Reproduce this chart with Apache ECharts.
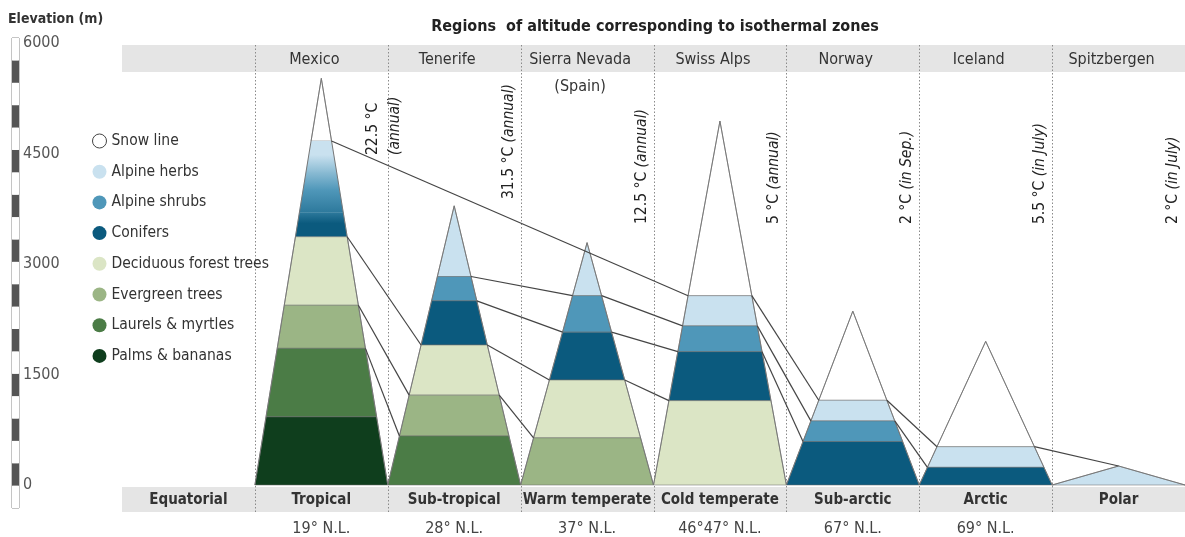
<!DOCTYPE html>
<html><head><meta charset="utf-8">
<script src="https://cdn.jsdelivr.net/npm/echarts@6/dist/echarts.min.js"></script>
<style>html,body{margin:0;padding:0;background:#fff}#c{width:1185px;height:537px}</style>
</head><body><div id="c"></div>
<script>
// ---------- data ----------
const regions = ['Mexico', 'Tenerife', 'Sierra Nevada\n(Spain)', 'Swiss Alps', 'Norway', 'Iceland', 'Spitzbergen'];
const zones = ['Equatorial', 'Tropical', 'Sub-tropical', 'Warm temperate', 'Cold temperate', 'Sub-arctic', 'Arctic', 'Polar'];
const latitudes = ['', '19° N.L.', '28° N.L.', '37° N.L.', '46°47° N.L.', '67° N.L.', '69° N.L.', ''];
const temperatures = ['22.5 °C', '31.5 °C', '12.5 °C', '5 °C', '2 °C', '5.5 °C', '2 °C'];
const temperatureNotes = ['(annual)', '(annual)', '(annual)', '(annual)', '(in Sep.)', '(in July)', '(in July)'];
const elevationTicks = [0, 1500, 3000, 4500, 6000];
const zoneNames = ['Snow line', 'Alpine herbs', 'Alpine shrubs', 'Conifers', 'Deciduous forest trees', 'Evergreen trees', 'Laurels & myrtles', 'Palms & bananas'];

// elevations (m) per mountain, in regions order
const peakElevation   = [5520, 3790, 3290, 4940, 2360, 1950, 258];
const snowLine        = [4670, null, null, 2570, 1150, 520, 258];
const alpineHerbsTop  = [4670, 3790, 3290, 2570, 1150, 520, 258];
const alpineShrubsTop = [4250, 2830, 2570, 2160, 870, null, null];
const conifersTop     = [3700, 2500, 2075, 1810, 590, 240, null];
const deciduousTop    = [3370, 1900, 1425, 1145, null, null, null];
const evergreenTop    = [2440, 1220, 640, null, null, null, null];
const laurelsTop      = [1855, 665, null, null, null, null, null];
const palmsTop        = [925, null, null, null, null, null, null];
const blendedBelt     = [true, false, false, false, false, false, false]; // herbs→conifers shown as a gradient

// ---------- styles ----------
const FONT = "'DejaVu Sans Condensed','DejaVu Sans',sans-serif";
const zoneColors = ['#ffffff', '#c9e1ef', '#4f97b9', '#0b5a7e', '#dbe5c5', '#9bb585', '#4b7c46', '#0f3e1d'];

function hex2rgb(h) { return [1, 3, 5].map(p => parseInt(h.substr(p, 2), 16)); }
function mix(a, b) { const x = hex2rgb(a), y = hex2rgb(b); return 'rgb(' + x.map((v, n) => Math.round((v + y[n]) / 2)).join(',') + ')'; }

const N = peakElevation.length;
const vegTops = [alpineHerbsTop, alpineShrubsTop, conifersTop, deciduousTop, evergreenTop, laurelsTop, palmsTop];
function edgeX(i, e, side) {
  const L = i + 1, R = i + 2, P = i + 1.5, f = e / peakElevation[i];
  return side < 0 ? L + (P - L) * f : R - (R - P) * f;
}
function bandsOf(i) {
  const out = [];
  if (snowLine[i] != null && snowLine[i] < peakElevation[i]) out.push({ k: 0, lo: snowLine[i], hi: peakElevation[i] });
  const present = vegTops.map((a, j) => ({ k: j + 1, top: a[i] })).filter(d => d.top != null);
  present.forEach((d, n) => out.push({ k: d.k, lo: n + 1 < present.length ? present[n + 1].top : 0, hi: d.top }));
  return out;
}

const zoneSeries = zoneNames.map((name, k) => {
  const data = [];
  for (let i = 0; i < N; i++) bandsOf(i).forEach(b => { if (b.k === k) data.push([i, b.lo, b.hi]); });
  return {
    type: 'custom', name, z: 2, xAxisIndex: 0, yAxisIndex: 0, data,
    encode: { x: 0, y: [1, 2] },
    itemStyle: k === 0 ? { color: '#ffffff', borderColor: '#555', borderWidth: 1 } : { color: zoneColors[k] },
    renderItem: (params, api) => {
      const i = api.value(0), lo = api.value(1), hi = api.value(2);
      const pts = [[edgeX(i, lo, -1), lo], [edgeX(i, lo, 1), lo], [edgeX(i, hi, 1), hi], [edgeX(i, hi, -1), hi]].map(p => api.coord(p));
      let fill = zoneColors[k], stroke = 'rgba(110,110,110,0.75)', lw = 0.7;
      if (blendedBelt[i] && k >= 1 && k <= 3) {
        const top = k > 1 ? mix(zoneColors[k - 1], zoneColors[k]) : zoneColors[k];
        const bot = k < 3 ? mix(zoneColors[k], zoneColors[k + 1]) : zoneColors[k];
        fill = new echarts.graphic.LinearGradient(0, 0, 0, 1, [
          { offset: 0, color: top }, { offset: 0.45, color: zoneColors[k] }, { offset: 1, color: bot }]);
        stroke = fill; lw = 0.3;
      }
      return { type: 'polygon', shape: { points: pts }, style: { fill, stroke, lineWidth: lw } };
    }
  };
});

// lines joining the same limit on neighbouring mountains
function lowerLimit(k) {
  return peakElevation.map((p, i) => {
    if (blendedBelt[i] && (k === 1 || k === 2)) return null;
    const b = bandsOf(i).find(d => d.k === k);
    return b && b.lo > 0 ? b.lo : null;
  });
}
const limitLines = [snowLine, lowerLimit(1), lowerLimit(2), lowerLimit(3), lowerLimit(4), lowerLimit(5), lowerLimit(6)];
const linkData = [];
limitLines.forEach(arr => {
  let prev = -1;
  arr.forEach((e, i) => { if (e != null) { if (prev >= 0) linkData.push([prev, arr[prev], i, e]); prev = i; } });
});

const option = {
  animation: false,
  backgroundColor: '#ffffff',
  title: [
    { text: 'Regions  of altitude corresponding to isothermal zones', left: 655, top: 19, textAlign: 'center', padding: 0,
      textStyle: { fontFamily: FONT, fontSize: 16, fontWeight: 'bold', color: '#222' } },
    { text: 'Elevation (m)', left: 8, top: 12, padding: 0,
      textStyle: { fontFamily: FONT, fontSize: 14, fontWeight: 'bold', color: '#333' } }
  ],
  legend: {
    orient: 'vertical', left: 87, top: 126, itemWidth: 14, itemHeight: 14, itemGap: 10.7, icon: 'circle', selectedMode: false,
    textStyle: { fontFamily: FONT, fontSize: 15.5, color: '#333', lineHeight: 20 },
    data: zoneNames.map((n, k) => k === 0 ? { name: n, itemStyle: { color: '#fff', borderColor: '#444', borderWidth: 1 } } : { name: n })
  },
  grid: [
    { left: 122, top: 43, width: 1067, height: 442 },
    { left: 12, top: 38, width: 7, height: 470, show: true, borderColor: '#8a8a8a', borderWidth: 1, backgroundColor: 'transparent' }
  ],
  xAxis: [
    { type: 'value', gridIndex: 0, min: 0, max: zones.length, show: false },
    { type: 'category', gridIndex: 0, position: 'top', data: [''].concat(regions), z: 10,
      axisLine: { show: false }, axisTick: { show: false }, splitLine: { show: false },
      axisLabel: { inside: true, margin: 3, interval: 0, fontFamily: FONT, fontSize: 16, color: '#333', lineHeight: 27, padding: [0, 14, 0, 0] } },
    { type: 'category', gridIndex: 0, position: 'bottom', data: zones, z: 10,
      axisLine: { show: false }, axisTick: { show: false }, splitLine: { show: false },
      axisLabel: { interval: 0, margin: 2,
        formatter: (v, idx) => '{z|' + v + '}\n{l|' + (latitudes[idx] || ' ') + '}',
        rich: { z: { fontFamily: FONT, fontSize: 15, fontWeight: 'bold', color: '#333', lineHeight: 27 },
                l: { fontFamily: FONT, fontSize: 16, color: '#444', lineHeight: 29 } } } },
    { type: 'value', gridIndex: 1, min: 0, max: 1, show: false }
  ],
  yAxis: [
    { type: 'value', gridIndex: 0, min: elevationTicks[0], max: elevationTicks[elevationTicks.length - 1], interval: elevationTicks[1] - elevationTicks[0],
      axisLine: { show: false }, axisTick: { show: false }, splitLine: { show: false },
      axisLabel: { align: 'left', margin: 99, fontFamily: FONT, fontSize: 16, color: '#555', formatter: v => String(v) } },
    { type: 'value', gridIndex: 1, min: 0, max: 21, interval: 1,
      axisLabel: { show: false }, axisLine: { show: false }, axisTick: { show: false }, splitLine: { show: false },
      splitArea: { show: true, areaStyle: { color: ['#ffffff', '#555555'] } } }
  ],
  series: [
    { type: 'custom', z: 1, silent: true, xAxisIndex: 0, yAxisIndex: 0, data: [[0, 0]],
      renderItem: (params, api) => {
        const cs = params.coordSys, x0 = cs.x, x1 = cs.x + cs.width;
        const children = [
          { type: 'rect', shape: { x: x0, y: cs.y + 2, width: x1 - x0, height: 27 }, style: { fill: '#e5e5e5' } },
          { type: 'rect', shape: { x: x0, y: cs.y + cs.height + 2, width: x1 - x0, height: 25 }, style: { fill: '#e5e5e5' } }
        ];
        for (let c = 1; c < zones.length; c++) {
          const x = Math.round(api.coord([c, 0])[0]) + 0.5;
          children.push({ type: 'line', shape: { x1: x, y1: cs.y + 2, x2: x, y2: cs.y + cs.height + 27 },
            style: { stroke: '#8a8a8a', lineWidth: 1, lineDash: [1.5, 2] } });
        }
        return { type: 'group', children };
      } }
  ].concat(zoneSeries).concat([
    { type: 'custom', z: 3, silent: true, xAxisIndex: 0, yAxisIndex: 0,
      data: peakElevation.map((p, i) => [i, p]),
      renderItem: (params, api) => {
        const i = api.value(0), p = api.value(1);
        return { type: 'polyline', shape: { points: [api.coord([i + 1, 0]), api.coord([i + 1.5, p]), api.coord([i + 2, 0])] },
          style: { stroke: '#777', lineWidth: 1, fill: null } };
      } },
    { type: 'custom', z: 4, silent: true, xAxisIndex: 0, yAxisIndex: 0, data: linkData,
      renderItem: (params, api) => {
        const i = api.value(0), ei = api.value(1), j = api.value(2), ej = api.value(3);
        const a = api.coord([edgeX(i, ei, 1), ei]), b = api.coord([edgeX(j, ej, -1), ej]);
        return { type: 'line', shape: { x1: a[0], y1: a[1], x2: b[0], y2: b[1] }, style: { stroke: '#454545', lineWidth: 1.2 } };
      } },
    { type: 'custom', z: 5, silent: true, xAxisIndex: 0, yAxisIndex: 0,
      data: temperatures.map((t, i) => [i, 0]),
      renderItem: (params, api) => {
        const i = api.value(0), xr = api.coord([i + 2, 0])[0];
        const two = i === 0;
        const text = two ? '{a|' + temperatures[i] + '}\n{b|' + temperatureNotes[i] + '}'
                         : '{a|' + temperatures[i] + ' }{b|' + temperatureNotes[i] + '}';
        const y = i === 0 ? 155 : (i === 1 ? 199 : 224);
        return { type: 'text', x: two ? xr - 4 : xr - 12, y, rotation: Math.PI / 2,
          style: { text, align: 'left', verticalAlign: 'middle',
            rich: { a: { fontFamily: FONT, fontSize: 15.5, fill: '#222', lineHeight: 22 },
                    b: { fontFamily: FONT, fontSize: 15.5, fontStyle: 'italic', fill: '#222', lineHeight: 22 } } } };
      } }
  ])
};

const chart = echarts.init(document.getElementById('c'), null, { renderer: 'canvas' });
chart.setOption(option);
</script></body></html>
